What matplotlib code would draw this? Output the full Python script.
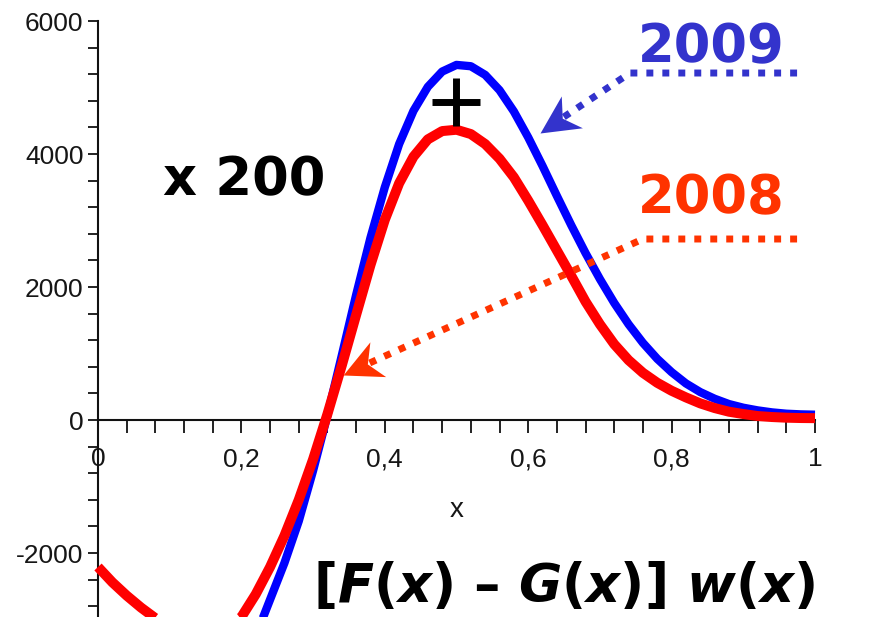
import numpy as np
import matplotlib
matplotlib.use("Agg")
import matplotlib.pyplot as plt
from matplotlib.path import Path
from matplotlib.markers import MarkerStyle
from matplotlib.transforms import Affine2D

# weighted difference [F(x) - G(x)] w(x), scaled x 200
x_2008 = [0.00, 0.02, 0.04, 0.06, 0.08, 0.10, 0.12, 0.14, 0.16, 0.18,
          0.20, 0.22, 0.24, 0.26, 0.28, 0.30, 0.32, 0.34, 0.36, 0.38,
          0.40, 0.42, 0.44, 0.46, 0.48, 0.50, 0.52, 0.54, 0.56, 0.58,
          0.60, 0.62, 0.64, 0.66, 0.68, 0.70, 0.72, 0.74, 0.76, 0.78,
          0.80, 0.82, 0.84, 0.86, 0.88, 0.90, 0.92, 0.94, 0.96, 0.98, 1.00]
y_2008 = [-2210, -2440, -2640, -2820, -2980, -3110, -3200, -3240, -3220, -3130,
          -2962, -2620, -2210, -1740, -1200, -590, 90, 820, 1580, 2330,
          3010, 3560, 3960, 4220, 4345, 4365, 4300, 4150, 3930, 3650,
          3300, 2930, 2550, 2170, 1780, 1440, 1140, 900, 710, 560,
          440, 340, 250, 180, 125, 90, 60, 45, 35, 30, 28]

x_2009 = [0.16, 0.18, 0.20, 0.22, 0.24, 0.26, 0.28, 0.30, 0.32, 0.34,
          0.36, 0.38, 0.40, 0.42, 0.44, 0.46, 0.48, 0.50, 0.52, 0.54,
          0.56, 0.58, 0.60, 0.62, 0.64, 0.66, 0.68, 0.70, 0.72, 0.74,
          0.76, 0.78, 0.80, 0.82, 0.84, 0.86, 0.88, 0.90, 0.92, 0.94,
          0.96, 0.98, 1.00]
y_2009 = [-4300, -4000, -3650, -3250, -2700, -2150, -1520, -760, 70, 970,
          1880, 2740, 3500, 4150, 4650, 5010, 5240, 5340, 5320, 5190,
          4960, 4640, 4250, 3820, 3370, 2930, 2510, 2120, 1760, 1440,
          1160, 920, 720, 550, 420, 320, 240, 185, 145, 115,
          95, 85, 80]

xticks = [0, 0.2, 0.4, 0.6, 0.8, 1.0]
xtick_labels = ["0", "0,2", "0,4", "0,6", "0,8", "1"]
yticks = [-2000, 0, 2000, 4000, 6000]
ytick_labels = ["-2000", "0", "2000", "4000", "6000"]

blue_note = "#3333cc"
red_note = "#ff3300"

plt.rcParams["mathtext.fontset"] = "custom"
plt.rcParams["mathtext.rm"] = "DejaVu Sans:bold"
plt.rcParams["mathtext.bf"] = "DejaVu Sans:bold"
plt.rcParams["mathtext.it"] = "DejaVu Sans:bold:italic"

fig = plt.figure(figsize=(8.78, 6.17), dpi=100)
ax = fig.add_axes([98 / 878, 0, 717 / 878, 1])
ax.set_xlim(0, 1)
ax.set_ylim(-2962, 6316)

# axes drawn through the origin, Maple style
for side in ["top", "right"]:
    ax.spines[side].set_visible(False)
ax.spines["bottom"].set_position(("data", 0))
ax.spines["bottom"].set_bounds(0, 1)
ax.spines["left"].set_bounds(-2962, 6000)
for side in ["bottom", "left"]:
    ax.spines[side].set_linewidth(1.5)
    ax.spines[side].set_color("#111111")

ax.set_xticks(xticks)
ax.set_xticklabels(xtick_labels)
ax.set_xticks(np.arange(0, 1.001, 0.04), minor=True)
ax.set_yticks(yticks)
ax.set_yticklabels(ytick_labels)
ax.set_yticks(np.arange(-2800, 6001, 400), minor=True)
ax.tick_params(axis="x", which="both", direction="out", length=9.5, width=1.3,
               color="#111111", pad=10)
ax.tick_params(axis="y", which="both", direction="out", length=7, width=1.3,
               color="#111111", pad=3.5)
for lab in ax.get_xticklabels() + ax.get_yticklabels():
    lab.set_fontfamily("Liberation Sans")
    lab.set_fontsize(19)
    lab.set_color("#161616")

ax.text(0.5, -1353, "x", family="Liberation Sans", fontsize=20, color="#161616",
        ha="center", va="center")

# the two curves, 2008 drawn over 2009
ax.plot(x_2009, y_2009, color="#0000ff", lw=6, solid_capstyle="butt",
        solid_joinstyle="round", clip_on=False, zorder=3)
ax.plot(x_2008, y_2008, color="#ff0000", lw=7.2, solid_capstyle="butt",
        solid_joinstyle="round", clip_on=False, zorder=4)

# peak marker
ax.plot([0.499], [4782], marker="+", ms=34, mew=5, color="black", zorder=5)

ax.text(0.0907, 3383, "x 200", fontsize=38, fontweight="bold", color="black",
        ha="left", va="baseline")
ax.text(0.753, 5383, "2009", fontsize=38, fontweight="bold", color=blue_note,
        ha="left", va="baseline")
ax.text(0.753, 3113, "2008", fontsize=38, fontweight="bold", color=red_note,
        ha="left", va="baseline")

# arrow head with a notched back
head = Path([(0, 0), (-1, 0.5), (-0.7, 0), (-1, -0.5), (0, 0)],
            [Path.MOVETO, Path.LINETO, Path.LINETO, Path.LINETO, Path.CLOSEPOLY])


def dotted_arrow(start, corner, tip, color):
    to_disp = ax.transData.transform
    c = to_disp(corner)
    t = to_disp(tip)
    d = t - c
    d = d / np.hypot(*d)
    notch = ax.transData.inverted().transform(t - d * 27)
    ax.plot([start[0], corner[0], notch[0]], [start[1], corner[1], notch[1]],
            color=color, lw=5, ls=(0, (1, 1.3)), clip_on=False, zorder=6)
    ang = np.degrees(np.arctan2(d[1], d[0]))
    mk = MarkerStyle(head, transform=Affine2D().rotate_deg(ang))
    ax.plot([tip[0]], [tip[1]], marker=mk, ms=55, mew=0, color=color,
            linestyle="none", clip_on=False, zorder=7)


dotted_arrow((0.975, 5218), (0.742, 5218), (0.616, 4316), blue_note)
dotted_arrow((0.975, 2722), (0.760, 2722), (0.342, 677), red_note)

fig.text(815 / 878, 15 / 617, r"$[F(x)$ – $G(x)]$ $w(x)$", fontsize=38,
         fontweight="bold", color="black", ha="right", va="baseline")

fig.savefig("out.png", dpi=100)
